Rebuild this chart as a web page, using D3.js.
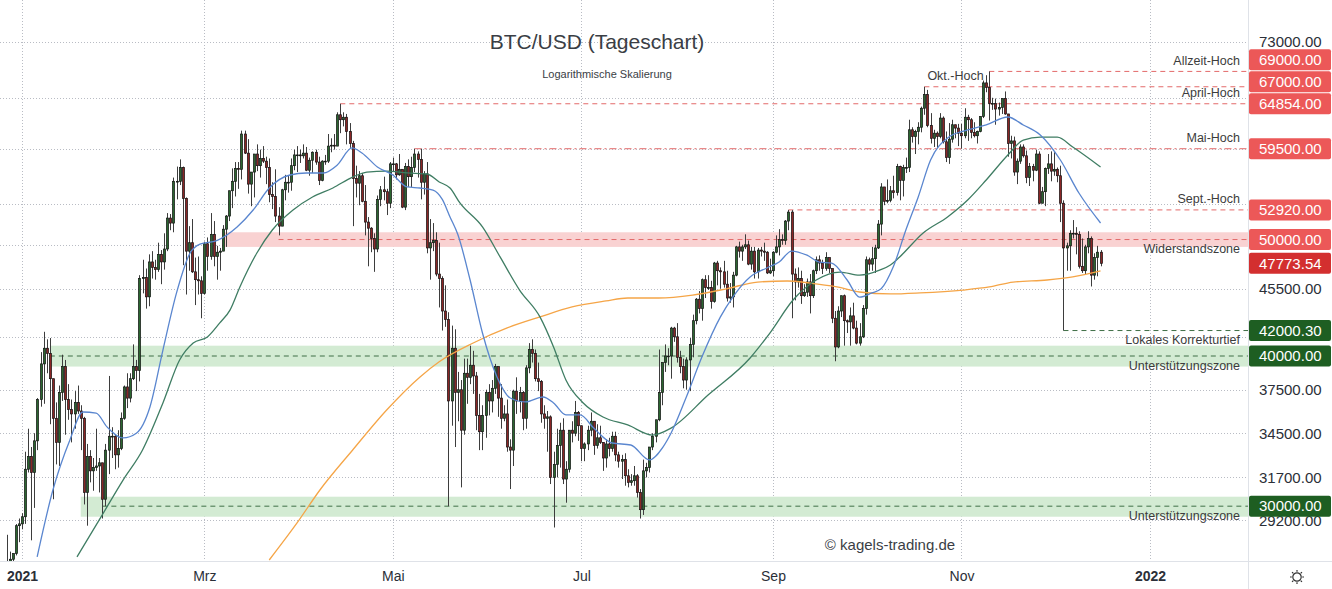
<!DOCTYPE html>
<html><head><meta charset="utf-8">
<script src="https://cdn.jsdelivr.net/npm/d3@7"></script>
<style>
body{margin:0;background:#fff}
svg{display:block}
text{font-family:"Liberation Sans",Arial,sans-serif}
</style>
</head><body>
<svg id="c" width="1332" height="589"></svg>
<script>
// ---------------- DATA ----------------
const candleStart = "2020-12-27";
const firstOpen = 26500;
const closes = [
 26300,27100,27400,28900,29000,
 29400,32200,33000,32000,34000,36800,39400,40600,40200,38300,35500,33900,37300,39200,36800,36100,35800,36600,36000,35500,30800,33000,32100,32300,32400,32600,30400,33400,34300,34300,33100,
 33500,35500,37700,36900,38300,39200,38900,46400,46500,44800,47900,47400,47200,48600,47900,49100,52100,51600,55900,55900,57400,54100,48900,49700,47000,46300,46200,45100,
 49600,48400,50500,48400,48800,48900,51000,52300,54900,55900,57300,57200,61200,59000,55600,56900,58900,57600,58400,58100,57400,54500,54300,52300,51300,55000,55800,55800,57600,58800,58800,
 58700,59000,57100,58200,59100,58000,56000,58100,58100,59800,59900,59800,63500,62900,63200,61500,60100,56200,55700,56500,53800,51700,51100,50100,49100,54000,55000,54800,53600,57800,
 57800,56600,57200,53200,57500,56400,57400,58900,58300,55800,56700,49200,49700,49900,46800,46400,43600,42900,36700,40600,37300,37500,34700,38700,38400,39300,38500,35700,34600,35700,37300,
 36700,37600,39200,36900,35500,35800,33600,33400,37400,36700,37300,35500,39100,40500,40200,38300,38100,35800,35500,35600,31700,32500,33700,34700,31600,32200,34700,34500,35900,35000,
 33500,33800,34700,35300,33700,34200,33900,32900,33800,33500,34300,33100,32700,32800,31800,31400,31500,31800,30800,29800,32100,32300,33600,34300,35400,37300,39500,40000,40000,42200,41500,
 39900,39200,38200,39700,40900,42800,44600,43800,46300,45600,45600,44400,47800,47100,47000,45900,44700,44800,46700,49300,48900,49300,49500,47700,48900,47000,49000,48900,48800,46900,47100,
 48800,49300,50000,49900,51800,52700,46800,46100,46400,44900,45200,46100,44900,47100,48100,47800,47300,48300,47300,43000,40700,43600,44900,42800,42700,43200,42200,41000,41500,43800,
 48100,47700,48200,49200,51500,55300,53800,53900,54900,54700,57500,56000,57400,57400,61700,60900,61500,62000,64300,66000,62200,60700,61300,60900,63100,60300,58500,60600,62300,61900,61300,
 61000,63200,62900,61400,61000,61500,63300,67500,66900,64900,64900,64200,64400,65500,63600,60100,60400,56900,58100,59700,58700,56300,57500,57100,58900,53600,54800,57300,57800,57000,
 57200,56500,53600,49200,49400,50600,50600,50500,47500,47100,49300,50100,46700,48300,48800,47773.54
];
const highs = [
 28400,27500,27400,28990,29300,
 29600,33300,34800,33600,34500,36900,40300,41900,41300,41400,38300,36600,37800,40100,39700,37900,36800,37400,37800,36400,35600,33800,33400,32900,34800,32900,32600,33800,38500,34900,34400,
 34700,35900,37800,38700,38700,40900,39700,46700,48100,47300,48600,48900,48100,49700,49000,50600,52600,52500,56300,57500,58300,57500,54200,51300,52000,48300,48400,46600,
 49800,50200,52600,51800,49400,49200,51400,52400,54900,57300,58000,58000,61600,61600,60600,56900,58900,60000,59400,59800,58600,58400,55800,57200,53200,55100,56600,56500,58400,59400,59800,
 59400,60000,59700,58500,59200,59400,58600,58200,58800,61200,60700,61200,63800,64854,63800,63600,62500,60400,57600,57000,56800,55500,52200,51200,50600,54400,55400,56400,55100,58000,
 58500,57900,58900,57200,57900,58300,58600,59500,59200,59500,57000,58000,52000,51600,50700,49700,46600,45800,43500,42400,42100,38800,38200,39800,39800,40800,40400,38800,37200,36400,37500,
 37900,38200,39400,39200,37900,36400,36800,34100,37500,38400,37700,37400,39300,41000,41300,40500,39500,38200,36400,36000,35700,33300,34800,35200,35500,32700,34700,35300,36700,36000,
 35000,33900,35000,35900,35300,35100,35000,33900,34100,34200,34600,34600,33300,33100,33200,32200,31900,32400,31900,31000,32800,32600,33600,34500,35400,40500,39500,40900,40600,42300,42300,
 42600,40400,39800,39900,41400,43300,44700,45300,46400,46700,46700,46200,47900,48000,47400,48000,47100,46000,47000,49400,49800,49500,50500,49900,49300,49300,49200,49300,49700,48900,48200,
 48900,50400,51000,50500,51900,52920,52900,47300,47400,47100,45900,46400,46800,47200,48400,48500,48100,48800,48300,47300,43600,44000,44900,45000,42900,43900,44300,42800,42600,44100,
 48400,48300,49300,49500,51900,55700,55300,56100,55400,56500,57800,57600,57700,58500,62900,62000,61700,62600,64500,67000,66600,63700,61700,61500,63700,63300,61500,62500,62900,62300,62400,
 62400,64300,63500,63100,62600,61600,63300,67800,68500,69000,65600,65500,65000,65500,66400,63600,61000,60900,58400,60000,60000,59300,57900,57800,59400,59200,55300,57400,58900,59200,
 59100,57400,57600,53900,49700,50900,51900,51200,50800,50100,49500,50800,50300,48700,49400,49000
];
const lows = [
 25900,26100,25900,27300,28000,
 28700,29000,32000,28100,29900,33400,36300,36500,38700,35100,30400,32500,32400,36700,34400,35400,33900,34800,35800,33400,30100,28900,31400,30900,32100,30800,29300,30000,31900,32900,32200,
 32300,33400,35400,36200,36600,38200,37400,38100,45100,43800,44000,46400,46300,47000,45900,47200,48900,50900,50700,54000,55500,47600,45000,47100,46900,44100,45000,43000,
 45000,47100,48100,47500,46300,47100,48900,49300,51800,53100,54300,55100,56100,58900,54600,53300,54200,57000,56300,57900,55600,53700,53000,51700,50400,51300,53900,54700,54900,57100,56900,
 57900,58400,57000,56500,56800,57700,55500,55900,57700,57900,59100,59400,59800,61300,62100,60000,59600,51300,54200,53400,53700,50400,47500,48800,47000,48800,53300,53900,52400,53100,
 57000,56100,56500,53100,52900,55300,55300,56900,56300,54000,54500,48700,46300,48900,46600,43900,42000,42300,30000,35000,33600,35300,31100,34400,36500,37900,37200,34700,33400,33400,34200,
 35700,35900,37200,35600,34800,35300,33300,31000,32400,35800,35900,34700,34800,38700,39500,38100,37400,35200,34800,33300,31300,28800,31700,32300,31300,30200,32000,33900,34300,34000,
 32700,32700,33400,34300,33100,33500,33800,32100,32300,33000,33300,32700,32300,31600,31200,31100,31200,31200,30500,29300,29500,31700,32000,33400,33900,35300,36400,38800,39300,38300,41100,
 39500,38700,37600,37500,37400,39900,42500,43400,42800,44700,45400,43800,44300,45800,45500,45600,44400,44300,43900,46600,48300,48000,49100,47600,47200,46400,46400,48400,48000,46800,46800,
 46600,48700,48500,49500,49500,50900,43000,44500,45600,44200,44800,44800,43400,44700,46800,47100,46800,47100,46900,42600,39600,40600,43100,40800,41800,40800,42100,40900,40800,41400,
 43300,47100,47100,46900,49100,50400,53400,53600,53700,54100,54400,53900,54300,56800,56900,60200,58900,60000,61400,63500,62000,60100,59700,59600,60700,60100,58000,57800,60200,60700,59800,
 59500,60700,60400,60700,60800,60100,61400,63100,66300,62800,64100,62300,63400,63600,63500,58600,58400,56500,55600,57800,58500,55700,55400,55900,57000,53500,53600,53300,56700,55900,
 56500,55800,51700,42000.3,47100,47100,50100,48600,47300,46900,46800,48700,45700,46300,46600,47500
];

// moving averages (day offset from 2021-01-01, price)
const ma20Days = [4.9,10,15.5,19.7,24,27.5,32.7,37,41.4,45.6,50,54.4,57.6,63,69.6,74.8,80,86.7,92,97.5,102,106.8,110,115,120,124.6,128.8,133,136,138.5,141,145,149,153.7,158,163,168.6,172,176,180.6,185,191,197,203,207.4,210,215,220,226,230,235.6,241,245,249,254,258,262,267,271,275,278,282,286,290,294,299.5,306,312,319,324,329.5,336,342,349];
const ma20Vals = [27220,30945,34060,35930,35860,34920,34190,34500,36280,40460,45140,48730,49570,49900,51220,52910,55190,56580,56800,56800,57670,59590,59020,57460,56580,55300,55190,54970,54000,52210,50500,46270,41800,38430,36910,36630,36980,36560,35730,35730,34840,33860,33730,32780,33600,34500,37000,39920,43110,44780,46540,47350,47890,48910,48520,47890,47800,46270,44780,45140,45500,47500,50920,54250,58230,60740,61680,62270,63230,62270,61090,58230,54660,51610];
const ma50Days = [17.8,25,32.7,39,45.6,51,55.4,60,64,67.3,70.5,76,81,87.7,94,100.6,107,111.6,118,124.6,131,135,138.5,141.7,149,154.7,161,167.6,172,176,181.6,188,196,204,210,222,235.6,242,249.5,257,264.7,271,277.7,281,284,291.6,299.5,306,312,319,324,329.5,335,340,349];
const ma50Vals = [27220,29220,31540,33410,36560,39700,41010,41490,42620,43680,45660,48730,50920,52910,54250,55190,56360,56900,57010,56800,56690,55830,55190,53630,51220,48360,45390,43110,40700,38210,36560,35590,35050,34380,34840,37120,39850,41800,44530,46270,46980,46700,47170,47620,48360,50630,52210,53930,56040,58790,60500,60830,60830,59700,57460];
const ma200Days = [80,89,96.4,107,118,128.8,135,146,157,167.6,178,189,196,206,217,228,238,247.6,255,263.7,271,281,290.6,304.5,313,320.7,331.7,340,349];
const ma200Vals = [27060,29050,30945,33410,36070,38430,39560,41010,42210,43110,43940,44450,44700,44700,44950,45500,46090,46180,46000,45660,45220,45050,45140,45390,45660,46090,46270,46540,47080];

// price axis ticks and time axis ticks
const priceTicks = [73000,65600,59500,53500,49500,45500,41500,37500,34500,31700,29200];
const timeTicks = ["2021-01-01","2021-03-01","2021-05-01","2021-07-01","2021-09-01","2021-11-01","2022-01-01"];
const timeLabels = ["2021","Mrz","Mai","Jul","Sep","Nov","2022"];

// marked levels
const levelNames  = ["Allzeit-Hoch","Okt.-Hoch","April-Hoch","Mai-Hoch","Sept.-Hoch","Widerstandszone","Lokales Korrekturtief","Unterstützungszone","Unterstützungszone"];
const levelValues = [69000,67000,64854,59500,52920,50000,42000.30,40000,30000];
const levelFrom   = ["2021-11-10","2021-10-20","2021-04-14","2021-05-08","2021-09-06","2021-03-25","2021-12-04","2021-01-10","2021-01-27"];
const lastPrice = 47773.54;

// zones
const zoneFrom = ["2021-03-07","2021-01-10","2021-01-20"];
const zoneLow  = [49300,39200,29400];
const zoneHigh = [50700,40800,30550];

// ---------------- CHART ----------------
const W = 1332, H = 589, PR = 1248, PB = 561;
const DAY = 864e5;
const parse = d3.utcParse("%Y-%m-%d");
const base2021 = parse("2021-01-01").getTime();
const x = d3.scaleUtc().domain([parse("2021-01-01"), parse("2022-01-01")]).range([22, 1150]);
const y = d3.scaleLog().domain([27009, 79116]).range([PB, 0]);

const svg = d3.select("#c");
svg.append("rect").attr("width", W).attr("height", H).attr("fill", "#fff");
svg.append("defs").append("clipPath").attr("id", "plot")
  .append("rect").attr("x", 0).attr("y", 0).attr("width", PR).attr("height", PB);

const t0 = parse(candleStart).getTime();
const candles = closes.map((c, i) => ({
  date: new Date(t0 + i * DAY), o: i ? closes[i - 1] : firstOpen, c, h: highs[i], l: lows[i]
}));

// grid
const grid = svg.append("g");
grid.selectAll("line.h").data(priceTicks).join("line")
  .attr("x1", 0).attr("x2", PR)
  .attr("y1", d => Math.round(y(d)) + 0.5).attr("y2", d => Math.round(y(d)) + 0.5)
  .attr("stroke", "#b9bcc4").attr("stroke-dasharray", "1,2");
grid.selectAll("line.v").data(timeTicks).join("line")
  .attr("y1", 0).attr("y2", PB)
  .attr("x1", d => Math.round(x(parse(d))) + 0.5).attr("x2", d => Math.round(x(parse(d))) + 0.5)
  .attr("stroke", "#b9bcc4").attr("stroke-dasharray", "1,2");

const plot = svg.append("g").attr("clip-path", "url(#plot)");

// zones
plot.selectAll("rect.zone").data(zoneFrom).join("rect")
  .attr("x", d => x(parse(d)))
  .attr("width", d => PR - x(parse(d)))
  .attr("y", (d, i) => y(zoneHigh[i]))
  .attr("height", (d, i) => y(zoneLow[i]) - y(zoneHigh[i]))
  .attr("fill", (d, i) => i === 0 ? "#f9d2d2" : "#d3ebd3");

// title
svg.append("text").attr("x", 597).attr("y", 42).attr("text-anchor", "middle").attr("dy", "0.35em")
  .attr("font-size", 21).attr("fill", "#3a3e45").text("BTC/USD (Tageschart)");
svg.append("text").attr("x", 607).attr("y", 74).attr("text-anchor", "middle").attr("dy", "0.35em")
  .attr("font-size", 11).attr("fill", "#3a3e45").text("Logarithmische Skalierung");
svg.append("text").attr("x", 890).attr("y", 545).attr("text-anchor", "middle").attr("dy", "0.35em")
  .attr("font-size", 15).attr("fill", "#3a3e45").text("© kagels-trading.de");

// level lines
const isRes = v => v >= 50000;
plot.selectAll("line.lvl").data(levelValues).join("line")
  .attr("x1", (d, i) => x(parse(levelFrom[i]))).attr("x2", PR)
  .attr("y1", d => y(d)).attr("y2", d => y(d))
  .attr("stroke", d => isRes(d) ? "#e36a6a" : "#3f6f47")
  .attr("stroke-width", 1)
  .attr("stroke-dasharray", d => d === 59500 ? "7,3,2,3" : "5,4");

// candles
const cg = plot.append("g");
cg.selectAll("line.wick").data(candles).join("line")
  .attr("x1", d => Math.round(x(d.date)) + 0.5).attr("x2", d => Math.round(x(d.date)) + 0.5)
  .attr("y1", d => y(d.h)).attr("y2", d => y(d.l))
  .attr("stroke", "#3d3d3d").attr("stroke-width", 1);
cg.selectAll("rect.body").data(candles).join("rect")
  .attr("x", d => Math.round(x(d.date)) - 0.6)
  .attr("width", 2.2)
  .attr("y", d => y(Math.max(d.o, d.c)))
  .attr("height", d => Math.max(0.8, Math.abs(y(d.o) - y(d.c))))
  .attr("fill", d => d.c >= d.o ? "#2b6630" : "#8a2626")
  .attr("stroke", "#141414").attr("stroke-width", 0.7);

// moving averages
const maLine = d3.line().curve(d3.curveMonotoneX)
  .x(d => x(new Date(base2021 + d[0] * DAY))).y(d => y(d[1]));
const mas = [
  [ma200Days, ma200Vals, "#f5a547"],
  [ma50Days, ma50Vals, "#3f7d63"],
  [ma20Days, ma20Vals, "#5a86cf"]
];
mas.forEach(([days, vals, col]) => {
  plot.append("path").datum(days.map((d, i) => [d, vals[i]]))
    .attr("d", maLine).attr("fill", "none").attr("stroke", col).attr("stroke-width", 1.3);
});

// level annotation texts
const labG = svg.append("g").attr("font-size", 12.5).attr("fill", "#3c3c3c");
levelValues.forEach((v, i) => {
  const name = levelNames[i];
  const above = i <= 4;
  if (name === "Okt.-Hoch") {
    labG.append("text").attr("x", x(parse(levelFrom[i])) + 3).attr("y", y(v) - 11)
      .attr("dy", "0.35em").text(name);
  } else {
    labG.append("text").attr("x", 1240).attr("y", y(v) + (above ? -11 : 9.5))
      .attr("text-anchor", "end").attr("dy", "0.35em").text(name);
  }
});

// axes frame
svg.append("line").attr("x1", PR + 0.5).attr("x2", PR + 0.5).attr("y1", 0).attr("y2", H).attr("stroke", "#dfe2e8");
svg.append("line").attr("x1", 0).attr("x2", W).attr("y1", PB + 0.5).attr("y2", PB + 0.5).attr("stroke", "#dfe2e8");

// price label boxes (stacked upward when overlapping)
const boxVals = levelValues.concat([lastPrice]).sort((a, b) => a - b);
const BH = 22;
let prevC = Infinity;
const boxes = boxVals.map(v => {
  let c = y(v);
  if (c > prevC - BH) c = prevC - BH;
  prevC = c;
  return { v, c };
});

// right axis (tick labels that sit under a price box are left out)
const hidden = d => boxes.some(b => Math.abs(b.c - y(d)) < 14);
const yAxis = d3.axisRight(y).tickValues(priceTicks)
  .tickFormat(d => hidden(d) ? "" : d.toFixed(2)).tickSize(0).tickPadding(11);
const ya = svg.append("g").attr("transform", `translate(${PR},0)`).call(yAxis);
ya.select(".domain").remove();
ya.selectAll("text").attr("font-size", 15).attr("fill", "#2b2f38").attr("font-family", "Liberation Sans, Arial, sans-serif");

// bottom axis
const xAxis = d3.axisBottom(x).tickValues(timeTicks.map(parse)).tickSize(0)
  .tickFormat((d, i) => timeLabels[i]);
const xa = svg.append("g").attr("transform", `translate(0,${PB})`).call(xAxis);
xa.select(".domain").remove();
xa.selectAll("text").attr("y", 15).attr("dy", "0.35em").attr("font-size", 14).attr("fill", "#2b2f38")
  .attr("font-family", "Liberation Sans, Arial, sans-serif")
  .attr("font-weight", (d, i) => /^\d+$/.test(timeLabels[i]) ? "bold" : "normal");

const bg = svg.append("g");
bg.selectAll("rect").data(boxes).join("rect")
  .attr("x", PR + 1).attr("width", W - PR - 2).attr("y", d => d.c - 10.5).attr("height", 21).attr("rx", 2)
  .attr("fill", d => d.v === lastPrice ? "#d32f2f" : (isRes(d.v) ? "#ec5858" : "#1e5e22"));
bg.selectAll("text").data(boxes).join("text")
  .attr("x", PR + 11).attr("y", d => d.c).attr("dy", "0.35em")
  .attr("font-size", 15).attr("fill", "#fff").text(d => d.v.toFixed(2));

// settings icon
const ic = svg.append("g").attr("transform", "translate(1297,577)").attr("stroke", "#333").attr("fill", "none");
ic.append("circle").attr("r", 4.2).attr("stroke-width", 1.2);
d3.range(8).forEach(k => {
  const a = k * Math.PI / 4;
  ic.append("line").attr("x1", Math.cos(a) * 5.2).attr("y1", Math.sin(a) * 5.2)
    .attr("x2", Math.cos(a) * 7).attr("y2", Math.sin(a) * 7).attr("stroke-width", 1.2);
});
</script>
</body></html>
